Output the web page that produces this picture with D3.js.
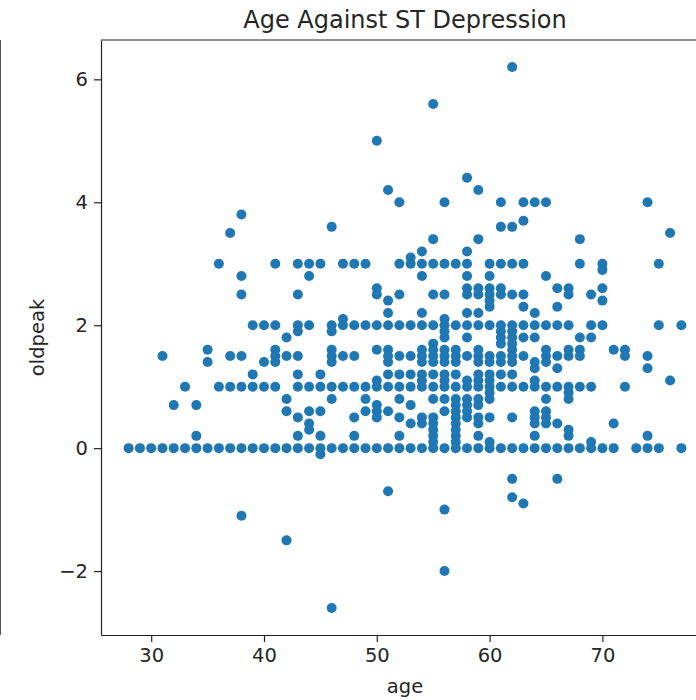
<!DOCTYPE html>
<html>
<head>
<meta charset="utf-8">
<script src="https://cdn.jsdelivr.net/npm/d3@7"></script>
<style>
    body { margin: 0; background: white; }
    svg { display: block; }
</style>
</head>
<body>
<div id="container"></div>
<script>

// ages along the x axis, and the oldpeak values seen in the scatter for each age
const ages = [28, 29, 30, 31, 32, 33, 34, 35, 36, 37, 38, 39, 40, 41, 42, 43, 44, 45, 46, 47,
    48, 49, 50, 51, 52, 53, 54, 55, 56, 57, 58, 59, 60, 61, 62, 63, 64, 65, 66, 67,
    68, 69, 70, 71, 72, 73, 74, 75, 76, 77];

const oldpeakByAge = [
    [0],
    [0],
    [0],
    [1.5, 0],
    [0.7, 0],
    [1.0, 0],
    [0.7, 0.2, 0],
    [1.6, 1.4, 0],
    [3.0, 1.0, 0],
    [3.5, 1.5, 1.0, 0],
    [3.8, 2.8, 2.5, 1.5, 1.0, 0, -1.1],
    [2.0, 1.2, 1.0, 0],
    [2.0, 1.4, 1.0, 0],
    [3.0, 2.0, 1.6, 1.5, 1.4, 1.0, 0],
    [1.8, 1.5, 0.8, 0.6, 0, -1.5],
    [3.0, 2.5, 2.0, 1.9, 1.5, 1.2, 1.0, 0.5, 0.2, 0],
    [3.0, 2.8, 2.0, 1.0, 0.6, 0.4, 0.3, 0],
    [3.0, 1.2, 1.0, 0.6, 0.2, 0, -0.1],
    [3.6, 2.0, 1.9, 1.6, 1.5, 1.4, 1.0, 0.8, 0, -2.6],
    [3.0, 2.1, 2.0, 1.5, 1.0, 0],
    [3.0, 2.0, 1.5, 1.0, 0.5, 0.2, 0],
    [3.0, 2.0, 1.0, 0.8, 0.6, 0],
    [5.0, 2.6, 2.5, 2.0, 1.6, 1.1, 1.0, 0.7, 0.6, 0.5, 0],
    [4.2, 2.4, 2.2, 2.0, 1.6, 1.5, 1.4, 1.2, 1.0, 0.6, 0, -0.7],
    [4.0, 3.0, 2.5, 2.0, 1.5, 1.2, 1.0, 0.8, 0.5, 0.2, 0],
    [3.1, 3.0, 2.0, 1.5, 1.2, 1.0, 0.7, 0.4, 0],
    [3.2, 3.0, 2.8, 2.2, 2.0, 1.6, 1.5, 1.4, 1.2, 1.1, 1.0, 0.5, 0.4, 0],
    [5.6, 3.4, 3.0, 2.5, 2.0, 1.7, 1.6, 1.5, 1.4, 1.2, 1.0, 0.8, 0.5, 0.4, 0.3, 0.2, 0.1, 0],
    [4.0, 3.0, 2.5, 2.1, 2.0, 1.9, 1.8, 1.6, 1.5, 1.4, 1.2, 1.1, 1.0, 0.8, 0.6, 0, -1.0, -2.0],
    [3.0, 2.0, 1.6, 1.5, 1.4, 1.2, 1.0, 0.8, 0.7, 0.6, 0.5, 0.4, 0.3, 0.2, 0.1, 0],
    [4.4, 3.2, 3.0, 2.8, 2.6, 2.5, 2.2, 2.0, 1.8, 1.5, 1.1, 1.0, 0.8, 0.7, 0.6, 0.5, 0],
    [4.2, 3.4, 2.6, 2.5, 2.2, 2.0, 1.6, 1.5, 1.4, 1.2, 1.1, 1.0, 0.8, 0.7, 0.5, 0.4, 0.2, 0],
    [3.0, 2.8, 2.6, 2.5, 2.4, 2.3, 2.0, 1.5, 1.4, 1.2, 1.1, 1.0, 0.9, 0.8, 0.5, 0.1, 0],
    [4.0, 3.6, 3.0, 2.6, 2.5, 2.0, 1.9, 1.8, 1.7, 1.5, 1.4, 1.2, 1.0, 0],
    [6.2, 3.6, 3.0, 2.5, 2.0, 1.9, 1.8, 1.7, 1.6, 1.5, 1.4, 1.2, 1.0, 0.5, 0, -0.5, -0.8],
    [4.0, 3.7, 3.0, 2.5, 2.3, 2.0, 1.8, 1.5, 1.0, 0, -0.9],
    [4.0, 2.2, 2.0, 1.8, 1.4, 1.3, 1.1, 1.0, 0.6, 0.5, 0.4, 0.2, 0],
    [4.0, 2.8, 2.0, 1.6, 1.5, 1.4, 1.0, 0.8, 0.6, 0.5, 0.4, 0],
    [2.6, 2.3, 2.0, 1.5, 1.3, 1.0, 0.4, 0, -0.5],
    [2.6, 2.5, 2.0, 1.6, 1.5, 1.0, 0.9, 0.8, 0.3, 0.2, 0],
    [3.4, 3.0, 1.8, 1.6, 1.5, 1.0, 0],
    [2.5, 2.0, 1.8, 1.0, 0.1, 0],
    [3.0, 2.9, 2.6, 2.4, 2.0, 0],
    [1.6, 0.4, 0],
    [1.6, 1.5, 1.0],
    [0],
    [4.0, 1.5, 1.3, 0.2, 0],
    [3.0, 2.0, 0],
    [3.5, 1.1],
    [2.0, 0]
];

const xTicks = [30, 40, 50, 60, 70];
const yTicks = [-2, 0, 2, 4, 6];

const points = ages.flatMap((a, i) => oldpeakByAge[i].map(v => ({age: a, oldpeak: v})));

const width = 696;
const height = 700;
const marginTop = 40;
const marginLeft = 101;
const plotRight = 709;   // right edge of the axes falls just past the picture
const plotBottom = 635;
const font = "'DejaVu Sans', sans-serif";

// matplotlib style 5% padding around the data
const xPad = (d3.max(ages) - d3.min(ages)) * 0.05;
const allPeaks = points.map(d => d.oldpeak);
const yPad = (d3.max(allPeaks) - d3.min(allPeaks)) * 0.05;

const x = d3.scaleLinear()
    .domain([d3.min(ages) - xPad, d3.max(ages) + xPad])
    .range([marginLeft, plotRight]);

const y = d3.scaleLinear()
    .domain([d3.min(allPeaks) - yPad, d3.max(allPeaks) + yPad])
    .range([plotBottom, marginTop]);

const svg = d3.create("svg")
    .attr("width", width)
    .attr("height", height)
    .attr("viewBox", [0, 0, width, height]);

svg.append("rect")
    .attr("width", width)
    .attr("height", height)
    .attr("fill", "white");

// thin edge left over from the neighbouring panel
svg.append("line")
    .attr("x1", 0.5).attr("x2", 0.5)
    .attr("y1", marginTop).attr("y2", plotBottom)
    .attr("stroke", "#555")
    .attr("stroke-width", 1);

svg.append("g")
    .attr("fill", "#1f77b4")
    .selectAll("circle")
    .data(points)
    .join("circle")
    .attr("cx", d => x(d.age))
    .attr("cy", d => y(d.oldpeak))
    .attr("r", 5);

// x axis
svg.append("g")
    .attr("transform", `translate(0,${plotBottom})`)
    .call(d3.axisBottom(x).tickValues(xTicks).tickSize(7).tickSizeOuter(0).tickPadding(6))
    .call(g => g.attr("font-size", 19.5).attr("font-family", font))
    .call(g => g.selectAll("path, line").attr("stroke", "#222").attr("stroke-width", 1.2))
    .call(g => g.selectAll("text").attr("fill", "#262626"));

// y axis
svg.append("g")
    .attr("transform", `translate(${marginLeft},0)`)
    .call(d3.axisLeft(y).tickValues(yTicks).tickSize(7).tickSizeOuter(0).tickPadding(6))
    .call(g => g.attr("font-size", 19.5).attr("font-family", font))
    .call(g => g.selectAll("path, line").attr("stroke", "#222").attr("stroke-width", 1.2))
    .call(g => g.selectAll("text").attr("fill", "#262626"));

// top spine
svg.append("line")
    .attr("x1", marginLeft).attr("x2", plotRight)
    .attr("y1", marginTop).attr("y2", marginTop)
    .attr("stroke", "#222")
    .attr("stroke-width", 1.2);

svg.append("text")
    .attr("x", (marginLeft + plotRight) / 2)
    .attr("y", marginTop - 12)
    .attr("text-anchor", "middle")
    .attr("font-family", font)
    .attr("font-size", 24)
    .attr("fill", "#262626")
    .text("Age Against ST Depression");

svg.append("text")
    .attr("x", (marginLeft + plotRight) / 2)
    .attr("y", 693)
    .attr("text-anchor", "middle")
    .attr("font-family", font)
    .attr("font-size", 19.5)
    .attr("fill", "#262626")
    .text("age");

svg.append("text")
    .attr("transform", `translate(44,${(marginTop + plotBottom) / 2}) rotate(-90)`)
    .attr("text-anchor", "middle")
    .attr("font-family", font)
    .attr("font-size", 19.5)
    .attr("fill", "#262626")
    .text("oldpeak");

document.getElementById("container").append(svg.node());

</script>
</body>
</html>
